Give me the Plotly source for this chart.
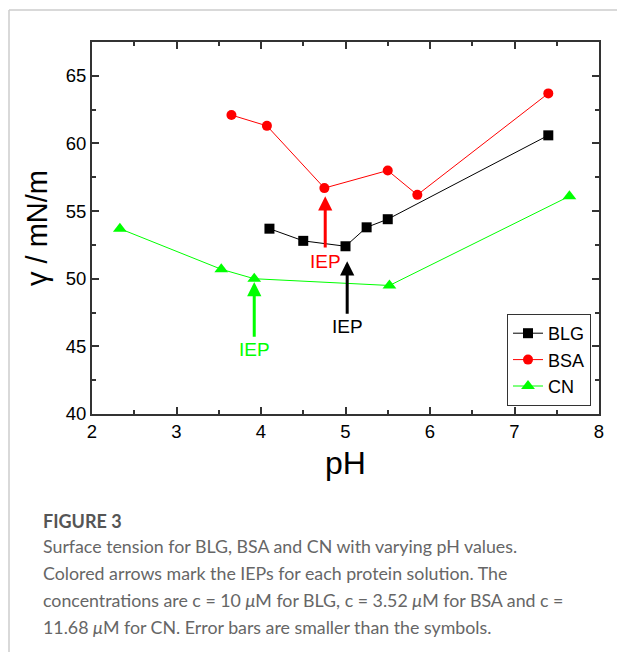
import plotly.graph_objects as go

# ---------------- data ----------------
blg_ph = [4.1, 4.5, 5.0, 5.25, 5.5, 7.4]
blg_gamma = [53.7, 52.8, 52.4, 53.8, 54.4, 60.6]

bsa_ph = [3.65, 4.07, 4.75, 5.5, 5.85, 7.4]
bsa_gamma = [62.1, 61.3, 56.7, 58.0, 56.2, 63.7]

cn_ph = [2.33, 3.53, 3.92, 5.52, 7.65]
cn_gamma = [53.7, 50.7, 50.0, 49.5, 56.1]

# IEP arrows: x, tip y, tail y, label y
iep_names = ["BSA", "BLG", "CN"]
iep_x = [4.76, 5.02, 3.92]
iep_tip = [56.1, 51.3, 49.75]
iep_tail = [52.2, 47.3, 45.6]
iep_label_y = [51.25, 46.5, 44.75]
iep_colors = ["#FF0000", "#000000", "#00FF00"]

x_ticks = [2, 3, 4, 5, 6, 7, 8]
y_ticks = [40, 45, 50, 55, 60, 65]

caption_title = "FIGURE 3"
caption_lines = [
    "Surface tension for BLG, BSA and CN with varying pH values.",
    "Colored arrows mark the IEPs for each protein solution. The",
    "concentrations are c = 10 <i>μ</i>M for BLG, c = 3.52 <i>μ</i>M for BSA and c =",
    "11.68 <i>μ</i>M for CN. Error bars are smaller than the symbols.",
]

# ---------------- geometry ----------------
W, H = 617, 652
ML, MR, MT, MB = 92, 18, 42, 238
PW = W - ML - MR
PH = H - MT - MB


def px_x(px):
    return (px - ML) / PW


def px_y(py):
    return (H - MB - py) / PH


font_main = "Liberation Sans"

fig = go.Figure()
fig.add_trace(go.Scatter(x=blg_ph, y=blg_gamma, mode="lines+markers", name="BLG",
                         line=dict(color="#000000", width=1),
                         marker=dict(symbol="square", size=10, color="#000000")))
fig.add_trace(go.Scatter(x=bsa_ph, y=bsa_gamma, mode="lines+markers", name="BSA",
                         line=dict(color="#FF0000", width=1),
                         marker=dict(symbol="circle", size=10, color="#FF0000")))
fig.add_trace(go.Scatter(x=cn_ph, y=cn_gamma, mode="lines+markers", name="CN",
                         line=dict(color="#00FF00", width=1),
                         marker=dict(symbol="triangle-up", size=12, color="#00FF00")))

annotations = []
for x, tip, tail, ly, c in zip(iep_x, iep_tip, iep_tail, iep_label_y, iep_colors):
    annotations.append(dict(x=x, y=tip, ax=x, ay=tail, xref="x", yref="y",
                            axref="x", ayref="y", text="", showarrow=True,
                            arrowhead=2, arrowsize=0.95, arrowwidth=3,
                            arrowcolor=c))
    annotations.append(dict(x=x, y=ly, xref="x", yref="y", text="IEP",
                            showarrow=False, font=dict(size=19, color=c,
                                                       family=font_main)))

annotations.append(dict(x=px_x(41), y=px_y(521), xref="paper", yref="paper",
                        xanchor="left", yanchor="middle", text="<b>" + caption_title + "</b>",
                        showarrow=False,
                        font=dict(size=18, color="#555555", family="Lato, sans-serif")))
for i, line in enumerate(caption_lines):
    annotations.append(dict(x=px_x(41), y=px_y(546 + 27 * i), xref="paper", yref="paper",
                            xanchor="left", yanchor="middle", text=line,
                            showarrow=False,
                            font=dict(size=17.8, color="#666666", family="Lato, sans-serif")))

shapes = [
    dict(type="line", xref="paper", yref="paper", x0=px_x(9), x1=px_x(640),
         y0=px_y(10), y1=px_y(10), line=dict(color="#cccccc", width=1.5)),
    dict(type="line", xref="paper", yref="paper", x0=px_x(9), x1=px_x(9),
         y0=px_y(10), y1=px_y(700), line=dict(color="#cccccc", width=1.5)),
]

axis_common = dict(showline=True, linecolor="#333333", linewidth=2, mirror="allticks",
                   ticks="inside", ticklen=7, tickwidth=1.5, tickcolor="#333333",
                   showgrid=False, zeroline=False,
                   tickfont=dict(size=18.5, color="#000000", family=font_main))

fig.update_xaxes(range=[2, 8], tickvals=x_ticks,
                 title=dict(text="pH", font=dict(size=32, color="#000000", family=font_main),
                            standoff=10),
                 minor=dict(ticks="inside", ticklen=4, tickwidth=1.5, tickcolor="#333333",
                            dtick=0.5, showgrid=False),
                 **axis_common)
fig.update_yaxes(range=[40, 67.5], tickvals=y_ticks,
                 title=dict(text="γ / mN/m", font=dict(size=29, color="#000000", family=font_main),
                            standoff=10),
                 minor=dict(ticks="inside", ticklen=4, tickwidth=1.5, tickcolor="#333333",
                            dtick=2.5, showgrid=False),
                 **axis_common)

fig.update_layout(
    width=W, height=H,
    margin=dict(l=ML, r=MR, t=MT, b=MB),
    paper_bgcolor="white", plot_bgcolor="white",
    showlegend=True,
    legend=dict(x=px_x(591), y=px_y(406), xanchor="right", yanchor="bottom",
                bgcolor="white", bordercolor="#333333", borderwidth=1,
                font=dict(size=18, color="#000000", family=font_main),
                itemwidth=30, tracegroupgap=0),
    annotations=annotations,
    shapes=shapes,
)

fig.write_html("out.html")
